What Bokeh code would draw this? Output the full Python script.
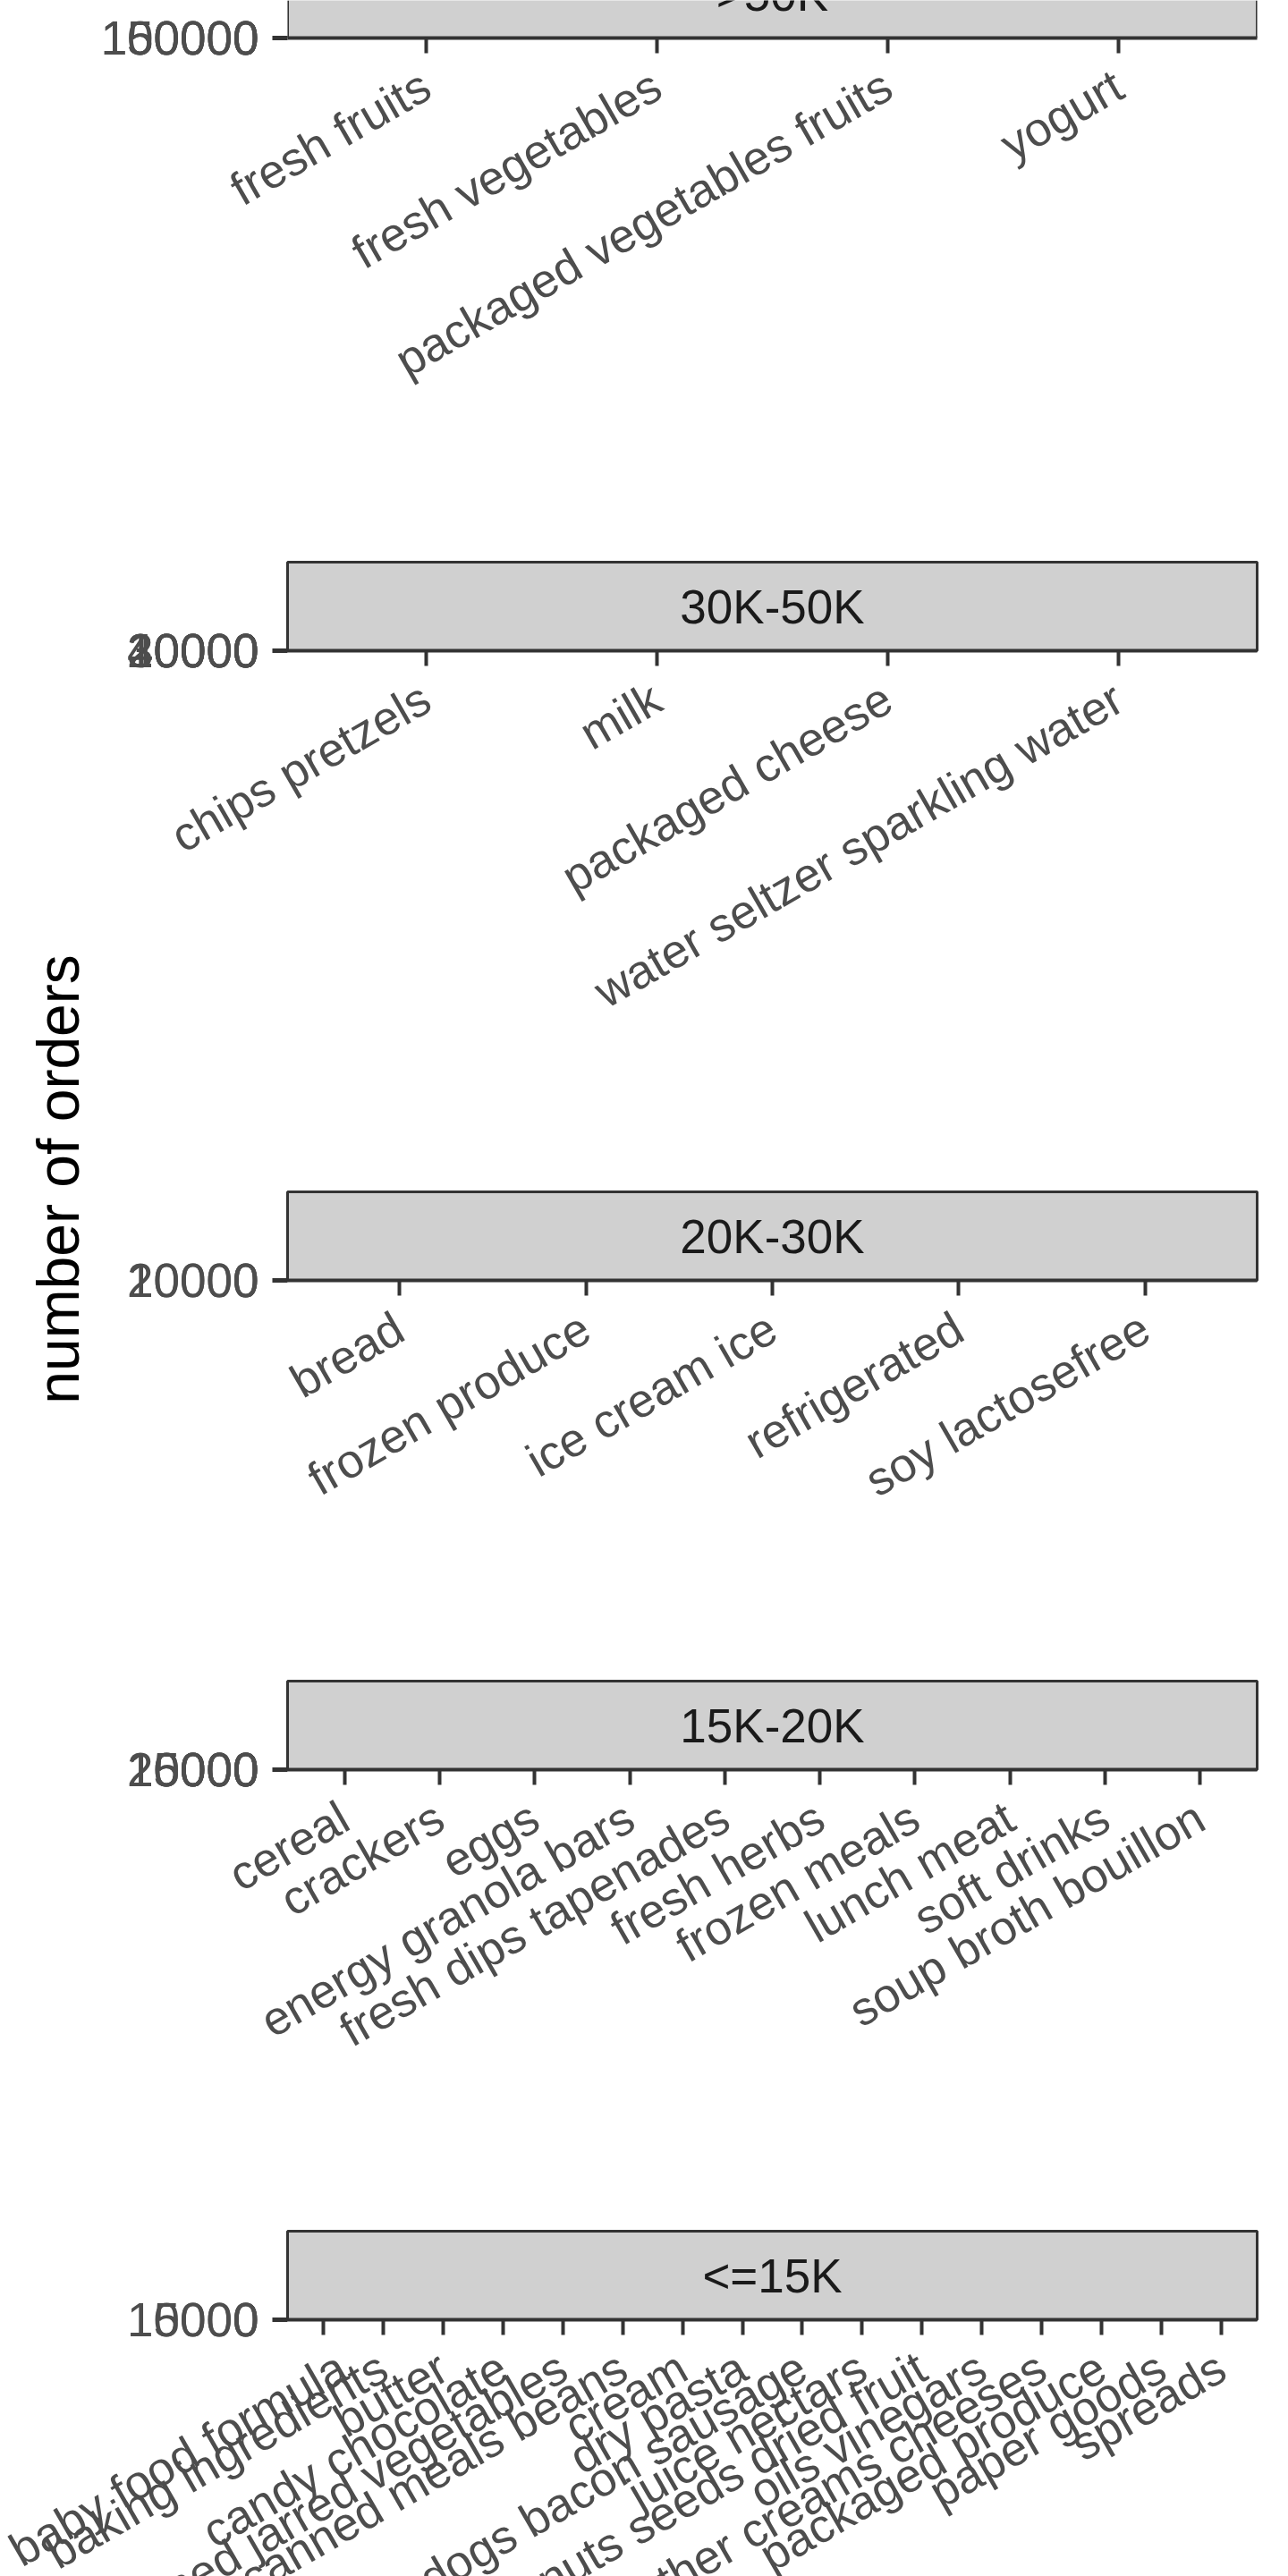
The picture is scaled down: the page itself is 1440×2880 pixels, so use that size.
import math
from bokeh.plotting import figure
from bokeh.models import Range1d, LinearAxis, FixedTicker, PrintfTickFormatter, Label, Span
from bokeh.layouts import column, row
from bokeh.embed import file_html
from bokeh.resources import INLINE
from bokeh.core.properties import value

# ---------------- data ----------------
strip_labels = [">50K", "30K-50K", "20K-30K", "15K-20K", "<=15K"]

aisles_gt50k = ["fresh fruits", "fresh vegetables", "packaged vegetables fruits", "yogurt"]
aisles_30_50k = ["chips pretzels", "milk", "packaged cheese", "water seltzer sparkling water"]
aisles_20_30k = ["bread", "frozen produce", "ice cream ice", "refrigerated", "soy lactosefree"]
aisles_15_20k = ["cereal", "crackers", "eggs", "energy granola bars", "fresh dips tapenades",
                 "fresh herbs", "frozen meals", "lunch meat", "soft drinks", "soup broth bouillon"]
aisles_le15k = ["baby food formula", "baking ingredients", "butter", "candy chocolate",
                "canned jarred vegetables", "canned meals beans", "cream", "dry pasta",
                "hot dogs bacon sausage", "juice nectars", "nuts seeds dried fruit", "oils vinegars",
                "other creams cheeses", "packaged produce", "paper goods", "spreads"]

yticks_gt50k = [0, 50000, 100000, 150000]
yticks_30_50k = [0, 10000, 20000, 30000, 40000]
yticks_20_30k = [0, 10000, 20000]
yticks_15_20k = [0, 5000, 10000, 15000, 20000]
yticks_le15k = [0, 5000, 10000]

y_title = "number of orders"

# ---------------- style / layout ----------------
FONT = "Liberation Sans"
TEXT_PX = "53px"
TITLE_W = 105
FRAME_L = 321
FRAME_W = 1084
FRAME_R = 1405
STRIP_H = 99
STRIP_FILL = "#D0D0D0"
LINE_C = "#333333"
TOP_H = 2430

# (fig width, left offset, fig height, top border, visible fraction of the strip)
layout_spec = [
    (1440 - TITLE_W, TITLE_W, 560, 0, 42 / STRIP_H),
    (1440 - TITLE_W, TITLE_W, 710, 68, 1.0),
    (1440 - TITLE_W, TITLE_W, 550, 62, 1.0),
    (1440 - TITLE_W, TITLE_W, 610, 59, 1.0),
    (1440, 0, 664, 64, 1.0),
]

panel_aisles = [aisles_gt50k, aisles_30_50k, aisles_20_30k, aisles_15_20k, aisles_le15k]
panel_yticks = [yticks_gt50k, yticks_30_50k, yticks_20_30k, yticks_15_20k, yticks_le15k]


def make_panel(aisles, yticks, strip, spec):
    w, x0, h, top, frac = spec
    n = len(aisles)
    frame_h = round(STRIP_H * frac)
    bottom = h - top - frame_h
    left = FRAME_L - x0
    right = w - left - FRAME_W
    p = figure(width=w, height=h,
               x_range=Range1d(0.4, n + 0.6), y_range=Range1d(0, frac),
               x_axis_type=None, y_axis_type=None,
               output_backend="svg", toolbar_location=None,
               min_border_left=left, min_border_right=right,
               min_border_top=top, min_border_bottom=bottom)
    p.background_fill_color = STRIP_FILL
    p.border_fill_color = "white"
    if frac < 1.0:
        p.outline_line_color = None
        for loc in (p.x_range.start, p.x_range.end):
            p.add_layout(Span(location=loc, dimension="height",
                              line_color=LINE_C, line_width=3))
    else:
        p.outline_line_color = LINE_C
        p.outline_line_width = 3

    # x axis (aisles)
    xa = LinearAxis(ticker=FixedTicker(ticks=list(range(1, n + 1))),
                    major_label_overrides={i + 1: a for i, a in enumerate(aisles)})
    xa.axis_line_color = LINE_C
    xa.axis_line_width = 4
    xa.major_tick_line_color = LINE_C
    xa.major_tick_line_width = 4
    xa.major_tick_in = 0
    xa.major_tick_out = 17
    xa.minor_tick_line_color = None
    xa.major_label_orientation = math.pi / 6
    xa.major_label_standoff = 32
    xa.major_label_text_font = FONT
    xa.major_label_text_font_size = TEXT_PX
    xa.major_label_text_color = "#4D4D4D"
    p.add_layout(xa, "below")

    # y axis (number of orders) - collapsed panel, all ticks at the bottom
    p.extra_y_ranges = {"orders": Range1d(0, 1e12)}
    ya = LinearAxis(y_range_name="orders", ticker=FixedTicker(ticks=yticks),
                    formatter=PrintfTickFormatter(format="%d"))
    ya.axis_line_color = None
    ya.major_tick_line_color = LINE_C
    ya.major_tick_line_width = 5
    ya.major_tick_in = 0
    ya.major_tick_out = 17
    ya.minor_tick_line_color = None
    ya.major_label_standoff = 15
    ya.major_label_text_font = FONT
    ya.major_label_text_font_size = TEXT_PX
    ya.major_label_text_color = "#4D4D4D"
    p.add_layout(ya, "left")

    p.add_layout(Label(x=(n + 1) / 2, y=0.5, text=strip,
                       text_align="center", text_baseline="middle",
                       text_font=FONT, text_font_size=TEXT_PX, text_color="#1A1A1A"))
    return p


panels = [make_panel(a, t, s, spec) for a, t, s, spec in
          zip(panel_aisles, panel_yticks, strip_labels, layout_spec)]

tfig = figure(width=TITLE_W, height=TOP_H, x_range=Range1d(0, TITLE_W), y_range=Range1d(0, TOP_H),
              x_axis_type=None, y_axis_type=None, output_backend="svg", toolbar_location=None,
              min_border=0)
tfig.outline_line_color = None
tfig.background_fill_color = "white"
tfig.text(x=[64], y=[TOP_H - 1318], text=[y_title], angle=math.pi / 2,
          text_align="center", text_baseline="middle",
          text_font=value(FONT), text_font_size="66px", text_color="black")

top = row(tfig, column(*panels[:4], spacing=0), spacing=0)
layout = column(top, panels[4], spacing=0, width=1440, height=2880, styles={"overflow": "hidden"})

open("out.html", "w").write(file_html(layout, INLINE))
